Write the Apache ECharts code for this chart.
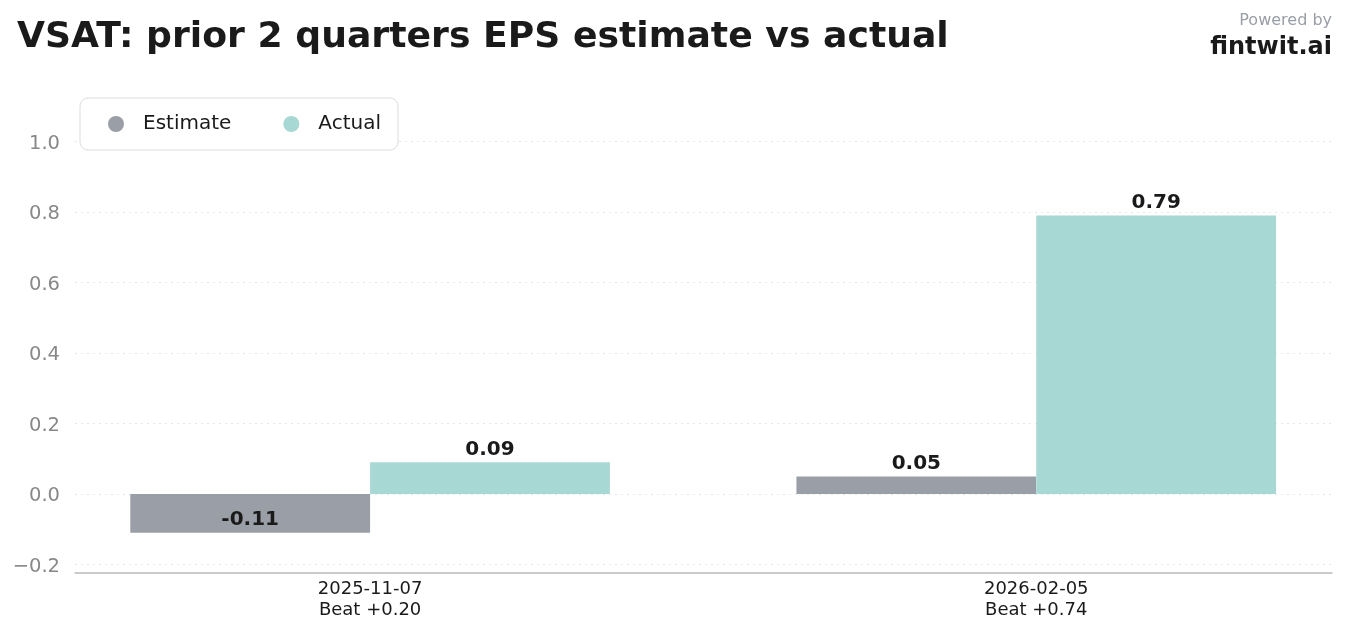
<!DOCTYPE html>
<html>
<head>
  <meta charset="utf-8">
  <script src="https://cdn.jsdelivr.net/npm/echarts@6/dist/echarts.min.js"></script>
  <style>
    html, body { margin: 0; padding: 0; background: #fff; }
  </style>
</head>
<body>
  <div id="id_chart" style="width: 1345px; height: 631px;"></div>

  <script type="text/javascript">
    // data
    var dates = ['2025-11-07', '2026-02-05'];
    var beats = ['Beat +0.20', 'Beat +0.74'];
    var estimates = [-0.11, 0.05];
    var actuals = [0.09, 0.79];
    var yTicks = [-0.2, 0.0, 0.2, 0.4, 0.6, 0.8, 1.0];

    var FONT = 'DejaVu Sans';
    var BAR_W = 0.36;

    function fmtTick(v) {
      var s = Math.abs(v).toFixed(1);
      return v < -1e-9 ? '\u2212' + s : s;
    }

    function barRenderer(side, color) {
      return function(params, api) {
        var i = api.value(0);
        var v = api.value(1);
        var x0 = side < 0 ? i - BAR_W : i;
        var x1 = side < 0 ? i : i + BAR_W;
        var p0 = api.coord([x0, 0]);
        var p1 = api.coord([x1, v]);
        var top = Math.min(p0[1], p1[1]);
        var h = Math.abs(p1[1] - p0[1]);
        return {
          type: 'group',
          children: [{
            type: 'rect',
            shape: { x: p0[0], y: top, width: p1[0] - p0[0], height: h },
            style: { fill: color }
          }, {
            type: 'text',
            x: (p0[0] + p1[0]) / 2,
            y: p1[1] - 3,
            style: {
              text: v.toFixed(2),
              fill: '#1a1a1a',
              font: 'bold 20px "DejaVu Sans"',
              align: 'center',
              verticalAlign: 'bottom'
            }
          }]
        };
      };
    }

    var myChart = echarts.init(document.getElementById('id_chart'));
    var option = {
      animation: false,
      backgroundColor: '#ffffff',
      title: [{
        text: 'VSAT: prior 2 quarters EPS estimate vs actual',
        left: 12,
        top: 15,
        textStyle: { fontFamily: FONT, fontSize: 36.2, fontWeight: 'bold', color: '#1a1a1a' }
      }, {
        text: 'Powered by',
        right: 8,
        top: 8,
        textStyle: { fontFamily: FONT, fontSize: 16, fontWeight: 'normal', color: '#9a9ea6' }
      }, {
        text: 'fintwit.ai',
        right: 8,
        top: 31,
        textStyle: { fontFamily: FONT, fontSize: 24, fontWeight: 'bold', color: '#1a1a1a' }
      }],
      legend: {
        left: 80,
        top: 98,
        padding: [16, 17, 16, 28],
        borderColor: '#dddddd',
        borderWidth: 1,
        borderRadius: 8,
        backgroundColor: '#ffffff',
        icon: 'circle',
        itemWidth: 16,
        itemHeight: 16,
        itemGap: 52,
        textStyle: { fontFamily: FONT, fontSize: 20, color: '#1a1a1a', padding: [0, 0, 0, 14] },
        data: [
          { name: 'Estimate', itemStyle: { color: '#9a9ea6' } },
          { name: 'Actual', itemStyle: { color: '#a8d8d4' } }
        ]
      },
      grid: { left: 75, right: 13, top: 100, bottom: 58 },
      xAxis: {
        type: 'value',
        min: -0.443,
        max: 1.444,
        axisLine: { show: true, onZero: false, lineStyle: { color: '#bbbbbb', width: 1.5 } },
        axisTick: { show: false, customValues: [0, 1] },
        splitLine: { show: false },
        axisLabel: {
          customValues: [0, 1],
          margin: 6,
          fontFamily: FONT,
          fontSize: 18,
          lineHeight: 21,
          color: '#1a1a1a',
          formatter: function(v) {
            var i = Math.round(v);
            return dates[i] + '\n' + beats[i];
          }
        }
      },
      yAxis: {
        type: 'value',
        min: -0.224,
        max: 1.118,
        axisLine: { show: false },
        axisTick: { show: false, customValues: yTicks },
        axisLabel: {
          customValues: yTicks,
          margin: 15,
          fontFamily: FONT,
          fontSize: 19.5,
          color: '#888888',
          verticalAlign: 'top',
          lineHeight: 4,
          formatter: fmtTick
        },
        splitLine: { show: true, lineStyle: { color: '#e6e6e6', type: [2, 4], width: 1 } }
      },
      series: [{
        name: 'Estimate',
        type: 'custom',
        itemStyle: { color: '#9a9ea6' },
        renderItem: barRenderer(-1, '#9a9ea6'),
        data: estimates.map(function(v, i) { return [i, v]; })
      }, {
        name: 'Actual',
        type: 'custom',
        itemStyle: { color: '#a8d8d4' },
        renderItem: barRenderer(1, '#a8d8d4'),
        data: actuals.map(function(v, i) { return [i, v]; })
      }]
    };
    myChart.setOption(option);
  </script>
</body>
</html>
